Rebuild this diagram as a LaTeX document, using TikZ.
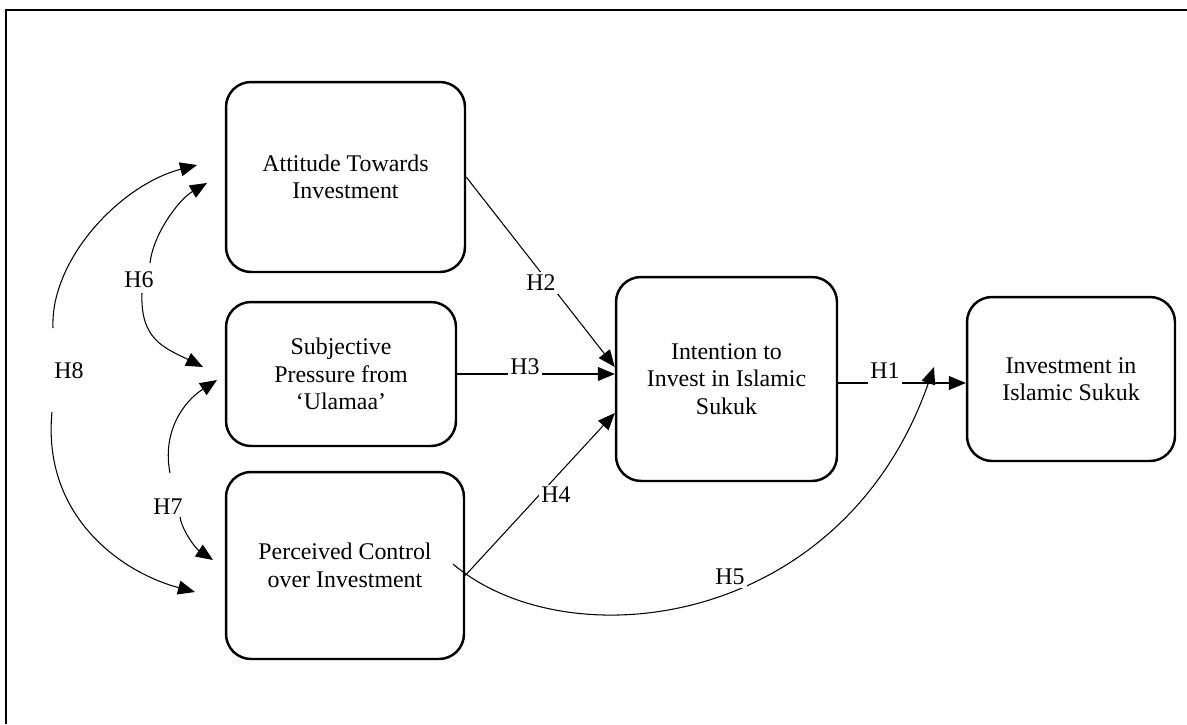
\documentclass[tikz,border=0pt]{standalone}
\usepackage{fontspec}
\setmainfont{Liberation Serif}
\usetikzlibrary{arrows.meta,calc}
\begin{document}
\begin{tikzpicture}[x=0.02cm,y=-0.02cm,
  box/.style={draw, line width=1.4pt, rounded corners=0.5cm, align=center, inner sep=0pt, font=\fontsize{13.6}{15.6}\selectfont},
  hlab/.style={fill=white, inner sep=1.5pt, font=\fontsize{13.6}{15.6}\selectfont},
  conn/.style={line width=0.6pt, -{Triangle[length=0.34cm,width=0.28cm]}},
]
\useasboundingbox (0,0) rectangle (1187,724);
\draw[line width=1.7pt] (6,724) -- (6,10) -- (1187,10);

% boxes
\node[box, minimum width=4.78cm, minimum height=3.8cm] (att) at (345.5,177) {Attitude Towards\\Investment};
\node[box, minimum width=4.6cm, minimum height=2.88cm] (sub) at (341,374) {Subjective\\Pressure from\\‘Ulamaa’};
\node[box, minimum width=4.76cm, minimum height=3.74cm] (per) at (345,565.5) {Perceived Control\\over Investment};
\node[box, minimum width=4.42cm, minimum height=4.08cm] (int) at (726.5,379) {Intention to\\Invest in Islamic\\Sukuk};
\node[box, minimum width=4.16cm, minimum height=3.28cm] (inv) at (1071,379) {Investment in\\Islamic Sukuk};

% H2
\draw[conn] (att.east) -- ($(int.west)+(0,-12)$);
\node[hlab] (h2) at (541,283) {H2};
% H3
\draw[conn] (sub.east) -- (sub.east -| int.west);
\node[hlab, minimum height=0.5cm] (h3) at (525,367) {H3};
% H4
\draw[conn] ($(per.east)+(0,10)$) -- ($(int.west)+(0,34)$);
\node[hlab] (h4) at (556,495) {H4};
% H5
\coordinate (h5s) at (453,564);
\coordinate (h5e) at (934,367);
\draw[conn] (h5s) .. controls (567,661) and (842,630) .. (h5e);
\node[hlab] (h5) at (730,577) {H5};
% H1
\draw[conn] ($(int.east)+(0,4)$) -- ($(inv.west)+(0,4)$);
\node[hlab, minimum height=0.56cm] (h1) at (885,371) {H1};

% H6
\node[hlab] (h6) at (139,280) {H6};
\coordinate (h6a) at (207,183);
\coordinate (h6b) at (203,367);
\draw[conn] ($(h6)+(11,-17)$) .. controls (153,235) and (178,200) .. (h6a);
\draw[conn] ($(h6)+(3,13)$) .. controls (140,340) and (165,348) .. (h6b);

% H7
\node[hlab] (h7) at (168,507) {H7};
\coordinate (h7a) at (217,380);
\coordinate (h7b) at (213,560);
\draw[conn] ($(h7)+(2,-34)$) .. controls (162,432) and (183,402) .. (h7a);
\draw[conn] ($(h7)+(12,10)$) .. controls (182,530) and (195,548) .. (h7b);

% H8
\node[hlab] (h8) at (69,371) {H8};
\coordinate (h8a) at (197,165);
\coordinate (h8b) at (195,592);
\draw[conn] ($(h8)+(-16,-43)$) .. controls (50,260) and (120,185) .. (h8a);
\draw[conn] ($(h8)+(-17,41)$) .. controls (42,515) and (120,572) .. (h8b);
\end{tikzpicture}
\end{document}
